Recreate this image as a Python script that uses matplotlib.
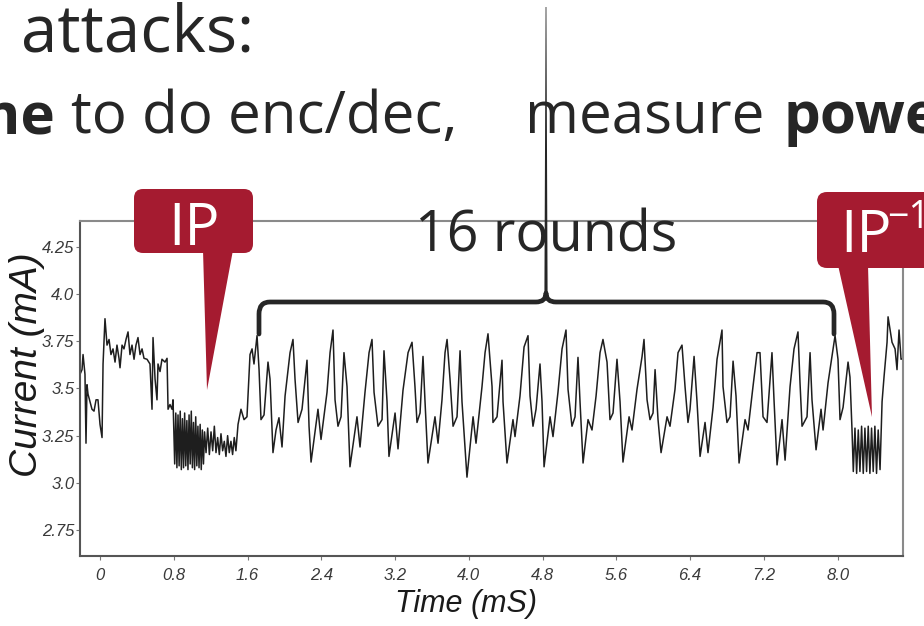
import matplotlib
matplotlib.use("Agg")
import matplotlib.pyplot as plt
from matplotlib.patches import FancyBboxPatch, Polygon, PathPatch
from matplotlib.path import Path

# power trace (time in ms, current in mA)
time_ms = [
    # before IP
    -0.217, -0.195, -0.184, -0.163, -0.152, -0.141, -0.130, -0.108, -0.087, -0.065,
    -0.043, -0.022, 0.000, 0.022, 0.033, 0.054, 0.076, 0.098, 0.119, 0.141,
    0.163, 0.184, 0.206, 0.217, 0.239, 0.260, 0.282, 0.304, 0.325, 0.347,
    0.369, 0.390, 0.412, 0.434, 0.456, 0.477, 0.510, 0.542, 0.564, 0.575,
    0.597, 0.618, 0.629, 0.651, 0.672, 0.705, 0.727, 0.738, 0.759, 0.781, 0.792,
    # IP
    0.810, 0.822, 0.834, 0.846, 0.858, 0.870, 0.882, 0.894, 0.906, 0.918,
    0.930, 0.942, 0.954, 0.966, 0.978, 0.990, 1.002, 1.014, 1.026, 1.038,
    1.050, 1.062, 1.074, 1.086, 1.098, 1.110, 1.122, 1.134,
    1.150, 1.168, 1.186, 1.204, 1.222, 1.240, 1.258, 1.276, 1.294, 1.312,
    1.330, 1.348, 1.366, 1.384, 1.402, 1.420, 1.438, 1.456, 1.474, 1.497,
    1.529, 1.562, 1.594,
    # 16 rounds
    1.627, 1.649, 1.670, 1.703, 1.725, 1.746, 1.779, 1.822, 1.844, 1.876,
    1.909, 1.941, 1.974, 2.007, 2.061, 2.093, 2.115, 2.148, 2.191, 2.245,
    2.267, 2.289, 2.364, 2.397, 2.462, 2.495, 2.527, 2.549, 2.581, 2.614,
    2.646, 2.679, 2.711, 2.787, 2.820, 2.874, 2.918, 2.950, 2.972, 3.015,
    3.059, 3.080, 3.113, 3.134, 3.200, 3.232, 3.286, 3.341, 3.384, 3.416,
    3.438, 3.471, 3.503, 3.525, 3.557, 3.633, 3.666, 3.709, 3.742, 3.764,
    3.796, 3.829, 3.872, 3.905, 3.926, 3.980, 4.046, 4.078, 4.143, 4.176,
    4.208, 4.252, 4.262, 4.306, 4.360, 4.371, 4.414, 4.479, 4.501, 4.555,
    4.599, 4.642, 4.664, 4.696, 4.729, 4.772, 4.794, 4.816, 4.881, 4.913,
    4.967, 5.011, 5.054, 5.076, 5.119, 5.152, 5.184, 5.206, 5.239, 5.293,
    5.336, 5.380, 5.423, 5.455, 5.499, 5.531, 5.564, 5.607, 5.640, 5.672,
    5.738, 5.770, 5.824, 5.879, 5.900, 5.933, 5.965, 5.998, 6.020, 6.052,
    6.085, 6.150, 6.182, 6.236, 6.269, 6.312, 6.345, 6.377, 6.399, 6.443,
    6.475, 6.508, 6.562, 6.594, 6.649, 6.692, 6.746, 6.757, 6.800, 6.833,
    6.866, 6.898, 6.931, 6.996, 7.028, 7.082, 7.126, 7.158, 7.191, 7.234,
    7.288, 7.310, 7.343, 7.397, 7.430, 7.484, 7.527, 7.570, 7.592, 7.614,
    7.668, 7.701, 7.722, 7.766, 7.820, 7.842, 7.896, 7.939, 7.972, 8.004,
    8.026, 8.059, 8.113, 8.134, 8.156,
    # IP^-1
    8.170, 8.188, 8.206, 8.224, 8.242, 8.260, 8.278, 8.296, 8.314, 8.332,
    8.350, 8.368, 8.386, 8.404, 8.422, 8.440, 8.460,
    8.482, 8.503, 8.536, 8.547, 8.590, 8.623, 8.644, 8.666, 8.688, 8.709,
]

current_ma = [
    3.575, 3.60, 3.68, 3.575, 3.21, 3.52, 3.47, 3.43, 3.39, 3.38,
    3.44, 3.44, 3.31, 3.24, 3.63, 3.87, 3.73, 3.76, 3.68, 3.71,
    3.64, 3.73, 3.66, 3.61, 3.73, 3.71, 3.76, 3.80, 3.68, 3.73,
    3.655, 3.73, 3.77, 3.68, 3.71, 3.66, 3.655, 3.63, 3.39, 3.77,
    3.55, 3.44, 3.63, 3.59, 3.655, 3.64, 3.66, 3.39, 3.415, 3.39, 3.44,
    3.10, 3.37, 3.08, 3.36, 3.09, 3.38, 3.07, 3.34, 3.08, 3.37,
    3.09, 3.33, 3.07, 3.36, 3.10, 3.38, 3.08, 3.32, 3.07, 3.35,
    3.09, 3.30, 3.08, 3.31, 3.07, 3.28, 3.10, 3.27,
    3.16, 3.29, 3.15, 3.27, 3.17, 3.30, 3.16, 3.24, 3.15, 3.26,
    3.17, 3.22, 3.14, 3.25, 3.16, 3.22, 3.15, 3.24, 3.17, 3.31,
    3.39, 3.335, 3.35,
    3.68, 3.71, 3.63, 3.78, 3.60, 3.335, 3.36, 3.64, 3.55, 3.16,
    3.28, 3.345, 3.19, 3.46, 3.69, 3.76, 3.55, 3.32, 3.39, 3.65,
    3.30, 3.11, 3.39, 3.23, 3.48, 3.69, 3.81, 3.44, 3.30, 3.35,
    3.69, 3.51, 3.085, 3.35, 3.19, 3.48, 3.69, 3.76, 3.48, 3.30,
    3.335, 3.70, 3.43, 3.14, 3.37, 3.18, 3.49, 3.69, 3.745, 3.51,
    3.32, 3.37, 3.67, 3.43, 3.105, 3.35, 3.21, 3.44, 3.69, 3.76,
    3.55, 3.30, 3.35, 3.70, 3.43, 3.03, 3.35, 3.21, 3.51, 3.69,
    3.79, 3.51, 3.32, 3.35, 3.65, 3.43, 3.105, 3.335, 3.245, 3.46,
    3.72, 3.78, 3.46, 3.30, 3.39, 3.63, 3.43, 3.085, 3.35, 3.245,
    3.48, 3.71, 3.81, 3.495, 3.30, 3.35, 3.665, 3.43, 3.105, 3.335,
    3.28, 3.46, 3.69, 3.76, 3.64, 3.335, 3.37, 3.655, 3.43, 3.11,
    3.35, 3.28, 3.495, 3.67, 3.76, 3.44, 3.335, 3.37, 3.60, 3.335,
    3.16, 3.35, 3.30, 3.495, 3.69, 3.73, 3.51, 3.32, 3.39, 3.67,
    3.43, 3.14, 3.32, 3.16, 3.40, 3.655, 3.81, 3.51, 3.32, 3.35,
    3.645, 3.46, 3.105, 3.335, 3.28, 3.51, 3.69, 3.69, 3.35, 3.32,
    3.69, 3.44, 3.095, 3.335, 3.12, 3.51, 3.71, 3.80, 3.53, 3.30,
    3.35, 3.69, 3.44, 3.175, 3.39, 3.28, 3.53, 3.67, 3.78, 3.655,
    3.335, 3.40, 3.64, 3.56, 3.28,
    3.06, 3.29, 3.05, 3.28, 3.06, 3.30, 3.05, 3.29, 3.06, 3.30,
    3.05, 3.29, 3.06, 3.30, 3.05, 3.28, 3.07,
    3.43, 3.56, 3.745, 3.88, 3.745, 3.71, 3.60, 3.81, 3.655, 3.66,
]

x_ticks = [0, 0.8, 1.6, 2.4, 3.2, 4.0, 4.8, 5.6, 6.4, 7.2, 8.0]
x_labels = ["0", "0.8", "1.6", "2.4", "3.2", "4.0", "4.8", "5.6", "6.4", "7.2", "8.0"]
y_ticks = [2.75, 3.0, 3.25, 3.5, 3.75, 4.0, 4.25]
y_labels = ["2.75", "3.0", "3.25", "3.5", "3.75", "4.0", "4.25"]

RED = "#a51b30"
INK = "#262626"
W, H = 924, 626

fig = plt.figure(figsize=(W / 100, H / 100), dpi=100)
fig.patch.set_facecolor("white")

# scope chart
ax = fig.add_axes([80 / W, 1 - 556 / H, 823 / W, 335 / H])
ax.plot(time_ms, current_ma, color="#1e1e1e", lw=1.1)
ax.set_xlim(-0.217, 8.709)
ax.set_ylim(2.612, 4.388)
ax.set_xticks(x_ticks)
ax.set_xticklabels(x_labels)
ax.set_yticks(y_ticks)
ax.set_yticklabels(y_labels)
ax.tick_params(direction="out", length=3, width=0.8, colors="#777",
               labelcolor="#3a3a3a", labelsize=12)
ax.tick_params(axis="x", pad=6)
ax.tick_params(axis="y", pad=1)
for lab in ax.get_xticklabels() + ax.get_yticklabels():
    lab.set_family("Liberation Sans")
    lab.set_style("italic")
for side in ["left", "bottom"]:
    ax.spines[side].set_color("#555")
    ax.spines[side].set_linewidth(1.5)
for side in ["top", "right"]:
    ax.spines[side].set_color("#8a8a8a")
    ax.spines[side].set_linewidth(1.5)

fig.text(27 / W, 1 - 365 / H, "Current (mA)", rotation=90, ha="center", va="center",
         family="Liberation Sans", style="italic", fontsize=28, color="#1a1a1a")
fig.text(466 / W, 1 - 604 / H, "Time (mS)", ha="center", va="center",
         family="Liberation Sans", style="italic", fontsize=22, color="#1a1a1a")

# slide overlay in pixel coordinates
ov = fig.add_axes([0, 0, 1, 1], zorder=5)
ov.set_xlim(0, W)
ov.set_ylim(H, 0)
ov.axis("off")

slide_font = "Open Sans"
ov.text(21, 51, "attacks:", fontsize=47, family=slide_font, color=INK, va="baseline")
ov.text(56, 133, "time", fontsize=42, family=slide_font, weight="bold", color=INK,
        ha="right", va="baseline")
ov.text(71, 133, "to do enc/dec,", fontsize=42, family=slide_font, color=INK, va="baseline")
ov.text(525, 133, "measure", fontsize=42, family=slide_font, color=INK, va="baseline")
ov.text(784, 133, "power", fontsize=42, family=slide_font, weight="bold", color=INK,
        va="baseline")

ov.text(546, 251, "16 rounds", fontsize=40, family=slide_font, color=INK,
        ha="center", va="baseline")

# brace over the rounds
verts = [(259, 334), (259, 314), (259, 302), (270, 302), (536, 302), (546, 302),
         (546, 293), (546, 302), (556, 302), (823, 302), (834, 302), (834, 314), (834, 334)]
codes = [Path.MOVETO, Path.LINETO, Path.CURVE3, Path.CURVE3, Path.LINETO, Path.CURVE3,
         Path.CURVE3, Path.CURVE3, Path.CURVE3, Path.LINETO, Path.CURVE3, Path.CURVE3,
         Path.LINETO]
ov.add_patch(PathPatch(Path(verts, codes), fill=False, edgecolor=INK, lw=3.4,
                       capstyle="round", joinstyle="round"))
ov.add_patch(Polygon([(545.6, 7), (546.4, 7), (547.6, 296), (544.4, 296)],
                     closed=True, facecolor=INK, edgecolor="none"))

# IP callout
ov.add_patch(Polygon([(203, 250), (233, 250), (207, 390)], closed=True,
                     facecolor=RED, edgecolor="none"))
ov.add_patch(FancyBboxPatch((134, 189), 119, 64, boxstyle="round,pad=0,rounding_size=9",
                            facecolor=RED, edgecolor="none"))
ov.text(194, 245, "IP", fontsize=42, family=slide_font, color="white",
        ha="center", va="baseline")

# IP^-1 callout
ov.add_patch(Polygon([(838, 265), (868, 265), (872, 417)], closed=True,
                     facecolor=RED, edgecolor="none"))
ov.add_patch(FancyBboxPatch((817, 192), 130, 76, boxstyle="round,pad=0,rounding_size=10",
                            facecolor=RED, edgecolor="none"))
ov.text(840, 252, "IP", fontsize=42, family=slide_font, color="white", va="baseline")
ov.text(887, 228, "\u22121", fontsize=27, family=slide_font, color="white", va="baseline")

fig.savefig("out.png", dpi=100)
